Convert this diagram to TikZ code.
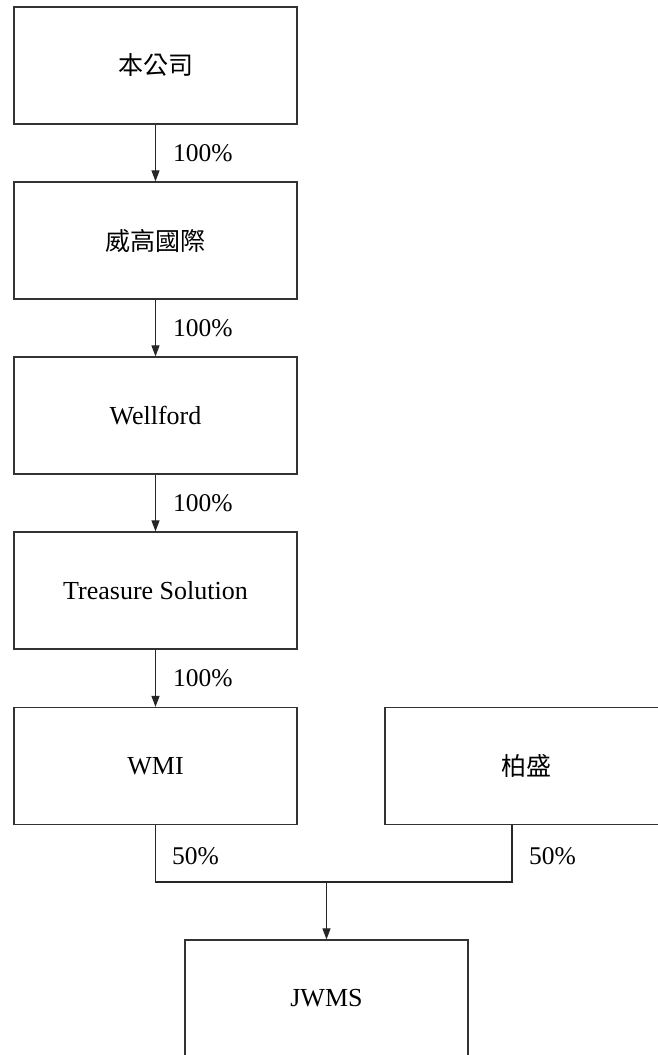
\documentclass[tikz,border=0pt]{standalone}
\usepackage{fontspec}
\setmainfont{Liberation Serif}
\newfontfamily\cjk{Noto Sans CJK TC}
\usetikzlibrary{arrows.meta}
\begin{document}
\begin{tikzpicture}[x=1pt,y=-1pt,
  box/.style={draw=black!80, line width=1.2pt, minimum width=283pt, minimum height=117pt, inner sep=0pt, font=\fontsize{26}{30}\selectfont},
  cjkf/.style={font=\fontsize{25}{30}\selectfont\cjk},
  conn/.style={line width=1.1pt, draw=black!85},
  arr/.style={conn, -{Triangle[length=11pt,width=8pt]}},
  pct/.style={font=\fontsize{25.5}{30}\selectfont, anchor=west, inner sep=0pt}]
\useasboundingbox (0,0) rectangle (657,1055);
\node[box,cjkf] (b1) at (155.5,65.5) {本公司};
\node[box,cjkf] (b2) at (155.5,240.5) {威高國際};
\node[box] (b3) at (155.5,415.5) {Wellford};
\node[box] (b4) at (155.5,590.5) {Treasure Solution};
\node[box] (b5) at (155.5,766) {WMI};
\node[box,cjkf] (b6) at (526.5,766) {柏盛};
\node[box] (b7) at (326.5,998.5) {JWMS};
\draw[arr] (b1) -- (b2);
\draw[arr] (b2) -- (b3);
\draw[arr] (b3) -- (b4);
\draw[arr] (b4) -- (b5);
\node[pct] (p1) at (173,153) {100\%};
\node[pct] (p2) at (173,328) {100\%};
\node[pct] (p3) at (173,503) {100\%};
\node[pct] (p4) at (173,678) {100\%};
\coordinate (r) at (512,882);
\coordinate (j) at (326.5,882);
\draw[conn] (b5.south) |- (r) -- (r |- b6.south);
\draw[arr] (j) -- (b7.north);
\node[pct] (p5) at (172,856) {50\%};
\node[pct] (p6) at (529,856) {50\%};
\end{tikzpicture}
\end{document}
